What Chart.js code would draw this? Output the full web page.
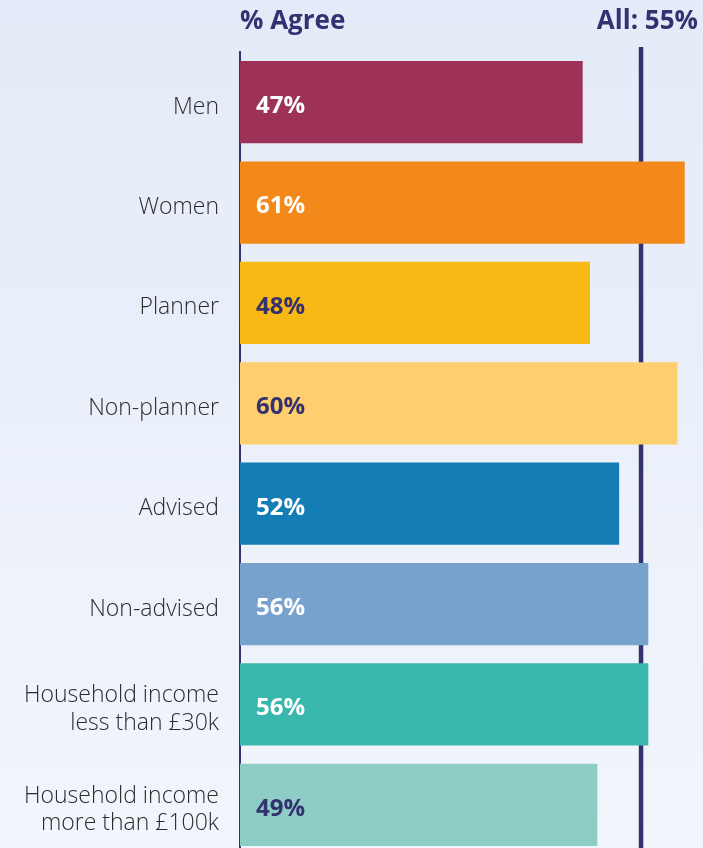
<!DOCTYPE html>
<html lang="en">
<head>
    <meta charset="UTF-8">
    <title>% Agree by group</title>
    <script src="https://cdn.jsdelivr.net/npm/chart.js"></script>
    <style>
        html, body {
            margin: 0;
            padding: 0;
            width: 703px;
            height: 848px;
            overflow: hidden;
            background: linear-gradient(to bottom, #e4ebf8, #f1f5fc);
        }
        canvas { display: block; }
    </style>
</head>
<body>
    <canvas id="chartCanvas" width="703" height="855"></canvas>

    <script>
        // data
        const groups = [
            'Men',
            'Women',
            'Planner',
            'Non-planner',
            'Advised',
            'Non-advised',
            ['Household income', 'less than £30k'],
            ['Household income', 'more than £100k']
        ];
        const agreePct = [47, 61, 48, 60, 52, 56, 56, 49];
        const allAgree = 55;
        const headerLeft = '% Agree';
        const headerRight = 'All: ' + allAgree + '%';

        const barColors = ['#9e3157', '#f2891a', '#f9b914', '#ffce6e', '#147db6', '#77a2cd', '#3ab7ad', '#8ecdc6'];
        const labelColors = ['#fff', '#fff', '#35306f', '#35306f', '#fff', '#fff', '#fff', '#35306f'];
        const navy = '#35306f';

        // header text, "All" line, value labels
        const extras = {
            id: 'extras',
            beforeDatasetsDraw(chart) {
                const c = chart.ctx;
                const x = chart.scales.x.getPixelForValue(allAgree);
                c.save();
                c.strokeStyle = navy;
                c.lineWidth = 4.5;
                c.beginPath();
                c.moveTo(x, 47);
                c.lineTo(x, chart.height);
                c.stroke();
                c.restore();
            },
            afterDatasetsDraw(chart) {
                const c = chart.ctx;
                const meta = chart.getDatasetMeta(0);
                c.save();
                c.font = 'bold 24px "Open Sans"';
                c.textBaseline = 'middle';
                c.textAlign = 'left';
                meta.data.forEach((bar, i) => {
                    c.fillStyle = labelColors[i];
                    c.fillText(agreePct[i] + '%', bar.base + 16, bar.y + 4);
                });

                c.fillStyle = navy;
                c.font = 'bold 26px "Open Sans"';
                c.fillText(headerLeft, chart.chartArea.left, 22);
                c.textAlign = 'right';
                c.fillText(headerRight, 698, 22);
                c.restore();
            }
        };

        const ctx = document.getElementById('chartCanvas').getContext('2d');
        new Chart(ctx, {
            type: 'bar',
            data: {
                labels: groups,
                datasets: [{
                    data: agreePct,
                    backgroundColor: barColors,
                    barPercentage: 0.82,
                    categoryPercentage: 1.0
                }]
            },
            options: {
                indexAxis: 'y',
                responsive: false,
                animation: false,
                layout: { padding: { top: 52, right: 0, bottom: 0, left: 0 } },
                plugins: {
                    legend: { display: false },
                    tooltip: { enabled: false }
                },
                scales: {
                    x: {
                        display: false,
                        min: 0,
                        max: 63.5
                    },
                    y: {
                        afterFit(scale) {
                            scale.width = 240;
                            scale.paddingTop = 0;
                            scale.paddingBottom = 0;
                        },
                        grid: { display: false, drawTicks: false },
                        border: { display: true, color: navy, width: 2 },
                        ticks: {
                            padding: 21,
                            labelOffset: 5,
                            color: '#2b2b2b',
                            font: { family: 'Open Sans', size: 23, weight: 300, lineHeight: 1.2 }
                        }
                    }
                }
            },
            plugins: [extras]
        });
    </script>
</body>
</html>
